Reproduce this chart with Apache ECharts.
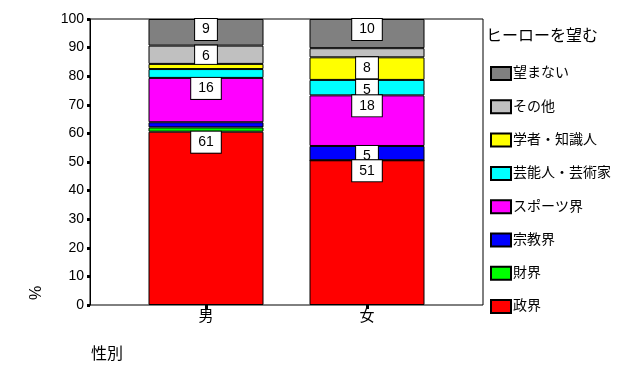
<!DOCTYPE html>
<html><head><meta charset="utf-8">
<script src="https://cdn.jsdelivr.net/npm/echarts@6/dist/echarts.min.js"></script>
<style>html,body{margin:0;padding:0;background:#fff}#c{width:621px;height:373px}</style>
</head><body><div id="c"></div>
<script>
const categories = ['男', '女'];
const seriesNames = ['政界', '財界', '宗教界', 'スポーツ界', '芸能人・芸術家', '学者・知識人', 'その他', '望まない'];
const seriesColors = ['#FF0000', '#00FF00', '#0000FF', '#FF00FF', '#00FFFF', '#FFFF00', '#C0C0C0', '#808080'];
const valuesMale   = [60.6, 1.5, 1.8, 15.5, 3.1, 1.8, 6.4, 9.3];
const valuesFemale = [50.6, 0.0, 5.0, 17.7, 5.4, 7.9, 3.2, 10.2];
const yTicks = [0, 10, 20, 30, 40, 50, 60, 70, 80, 90, 100];
const legendTitle = 'ヒーローを望む';
const xName = '性別';
const yName = '%';

const FONT = "'Liberation Sans', 'Noto Sans CJK JP', sans-serif";
const chart = echarts.init(document.getElementById('c'), null, {renderer: 'canvas'});

const series = seriesNames.map((name, i) => ({
  name: name,
  type: 'bar',
  stack: 'total',
  xAxisIndex: 1,
  yAxisIndex: 1,
  barWidth: 115,
  z: 20 - i,
  data: [valuesMale[i], valuesFemale[i]].map(v => ({value: v, label: {show: v >= 4.5}})),
  itemStyle: {color: seriesColors[i], borderColor: '#000', borderWidth: 1},
  label: {
    position: 'insideTop',
    distance: 0,
    formatter: p => String(Math.round(p.value)),
    backgroundColor: '#fff',
    borderColor: '#000',
    borderWidth: 1,
    padding: [3, 7, 3, 7],
    lineHeight: 15,
    fontSize: 14,
    color: '#000',
    fontFamily: FONT
  },
  emphasis: {disabled: true},
  animation: false
}));

chart.setOption({
  animation: false,
  title: [
    {text: legendTitle, left: 486, top: 29, padding: 0,
     textStyle: {fontSize: 16, fontWeight: 'normal', color: '#000', fontFamily: FONT}},
    {text: xName, left: 91, top: 347, padding: 0,
     textStyle: {fontSize: 16, fontWeight: 'normal', color: '#000', fontFamily: FONT}}
  ],
  grid: [
    {left: 90, top: 19, width: 393, height: 286, show: true, borderColor: '#000', borderWidth: 1, backgroundColor: 'transparent'},
    {left: 125.5, top: 19, width: 322, height: 286}
  ],
  xAxis: [
    {type: 'value', gridIndex: 0, min: 0, max: 1, show: false},
    {type: 'category', gridIndex: 1, data: categories,
     axisLine: {show: false},
     axisTick: {show: true, alignWithLabel: true, length: 4, lineStyle: {color: '#000', width: 3}},
     axisLabel: {fontSize: 15, color: '#000', margin: 4, fontFamily: FONT}}
  ],
  yAxis: [
    {type: 'value', gridIndex: 0, min: 0, max: 100, interval: 10,
     axisLine: {show: true, lineStyle: {color: '#000', width: 1}},
     axisTick: {show: true, length: 3, lineStyle: {color: '#000', width: 3}},
     axisLabel: {fontSize: 14, color: '#000', margin: 6, fontFamily: FONT,
       formatter: v => (yTicks.indexOf(v) >= 0 ? String(v) : '')},
     splitLine: {show: false}},
    {type: 'value', gridIndex: 1, min: 0, max: 100, show: false, splitLine: {show: false}}
  ],
  legend: {
    orient: 'vertical',
    left: 490,
    top: 66,
    padding: 0,
    itemWidth: 20,
    itemHeight: 13,
    itemGap: 18.3,
    icon: 'rect',
    data: seriesNames.slice().reverse(),
    textStyle: {fontSize: 14, color: '#000', lineHeight: 14, fontFamily: FONT, padding: [0, 0, 0, -3]},
    selectedMode: false
  },
  graphic: [
    {type: 'text', x: 37, y: 293, rotation: Math.PI / 2,
     style: {text: yName, fontSize: 16, fill: '#000', font: '16px ' + FONT, align: 'center', verticalAlign: 'middle'}}
  ],
  series: series
});
</script>
</body></html>
